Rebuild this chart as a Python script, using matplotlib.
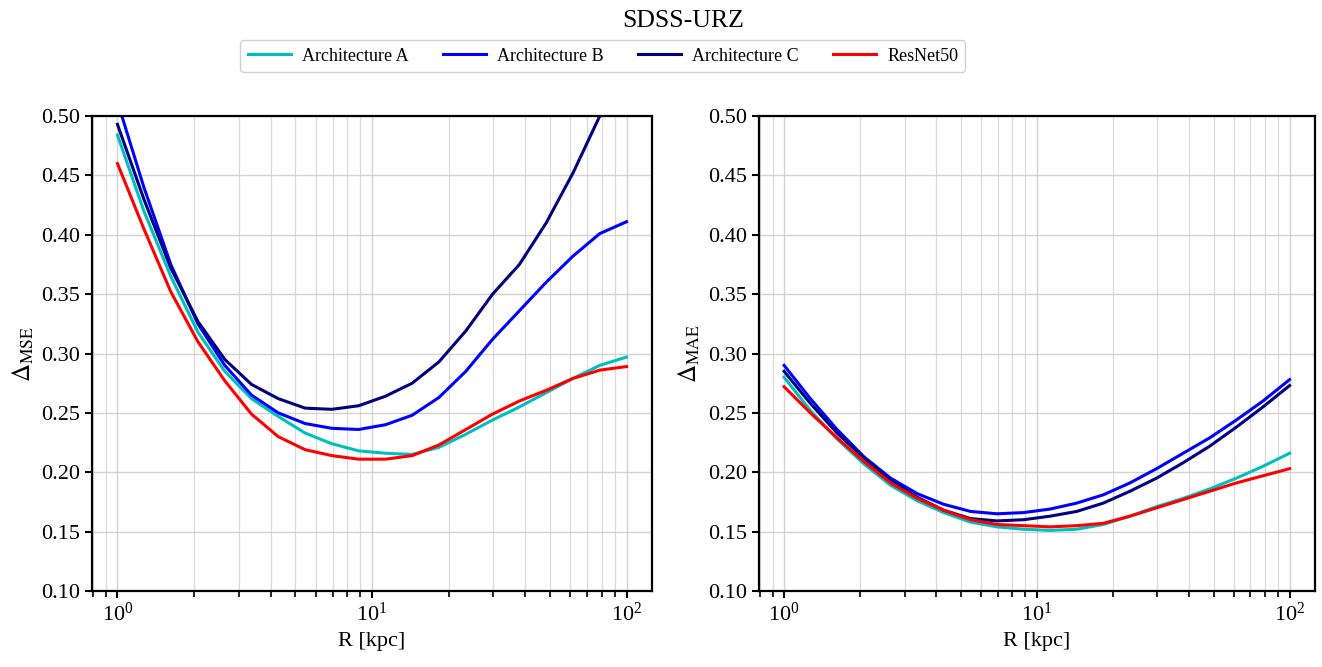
import matplotlib
matplotlib.use('Agg')
import matplotlib.pyplot as plt
import numpy as np
from matplotlib.ticker import MultipleLocator, FormatStrFormatter

plt.rcParams['font.family'] = 'Liberation Serif'
plt.rcParams['mathtext.fontset'] = 'stix'

R = [1.0, 1.27, 1.62, 2.07, 2.64, 3.36, 4.28, 5.46, 6.95, 8.86,
     11.29, 14.38, 18.33, 23.36, 29.76, 37.93, 48.33, 61.58, 78.48, 100.0]

mse_a = [0.484, 0.420, 0.365, 0.318, 0.285, 0.262, 0.247, 0.233, 0.224, 0.218,
         0.216, 0.215, 0.221, 0.232, 0.244, 0.255, 0.267, 0.279, 0.290, 0.297]
mse_b = [0.512, 0.440, 0.375, 0.325, 0.290, 0.265, 0.250, 0.241, 0.237, 0.236,
         0.240, 0.248, 0.263, 0.285, 0.312, 0.336, 0.360, 0.382, 0.401, 0.411]
mse_c = [0.493, 0.430, 0.372, 0.327, 0.295, 0.274, 0.262, 0.254, 0.253, 0.256,
         0.264, 0.275, 0.293, 0.319, 0.350, 0.375, 0.410, 0.452, 0.500, 0.550]
mse_r = [0.460, 0.405, 0.352, 0.310, 0.277, 0.249, 0.230, 0.219, 0.214, 0.211,
         0.211, 0.214, 0.223, 0.236, 0.249, 0.260, 0.269, 0.279, 0.286, 0.289]

mae_a = [0.280, 0.252, 0.228, 0.207, 0.189, 0.176, 0.166, 0.158, 0.154, 0.152,
         0.151, 0.152, 0.156, 0.163, 0.171, 0.178, 0.186, 0.195, 0.205, 0.216]
mae_b = [0.290, 0.262, 0.236, 0.213, 0.195, 0.182, 0.173, 0.167, 0.165, 0.166,
         0.169, 0.174, 0.181, 0.191, 0.203, 0.216, 0.229, 0.244, 0.260, 0.278]
mae_c = [0.285, 0.258, 0.233, 0.212, 0.193, 0.179, 0.168, 0.161, 0.159, 0.160,
         0.163, 0.167, 0.174, 0.184, 0.195, 0.208, 0.222, 0.238, 0.255, 0.273]
mae_r = [0.272, 0.250, 0.229, 0.209, 0.191, 0.178, 0.168, 0.160, 0.156, 0.155,
         0.154, 0.155, 0.157, 0.163, 0.170, 0.177, 0.184, 0.191, 0.197, 0.203]

labels = ['Architecture A', 'Architecture B', 'Architecture C', 'ResNet50']
colors = ['#00bfbf', '#0000ff', '#000080', '#ff0000']

fig = plt.figure(figsize=(13.22, 6.67), dpi=100)
ax1 = fig.add_axes([0.0696, 0.114, 0.4236, 0.712])
ax2 = fig.add_axes([0.574, 0.114, 0.4206, 0.712])

for ax, series, ylab in [(ax1, [mse_a, mse_b, mse_c, mse_r], r'$\Delta_{\rm MSE}$'),
                         (ax2, [mae_a, mae_b, mae_c, mae_r], r'$\Delta_{\rm MAE}$')]:
    for y, lab, col in zip(series, labels, colors):
        ax.plot(R, y, color=col, lw=2.2, label=lab)
    ax.set_xscale('log')
    ax.set_ylim(0.10, 0.50)
    ax.yaxis.set_major_locator(MultipleLocator(0.05))
    ax.yaxis.set_major_formatter(FormatStrFormatter('%.2f'))
    ax.grid(True, which='major', color='#d2d2d2', lw=1)
    ax.grid(True, which='minor', axis='x', color='#d9d9d9', lw=0.9)
    ax.tick_params(labelsize=16, width=1.5, length=5)
    ax.tick_params(which='minor', width=1.2, length=4)
    for s in ax.spines.values():
        s.set_linewidth(1.6)
    ax.set_xlabel('R [kpc]', fontsize=16)
    ax.set_ylabel(ylab, fontsize=18)

fig.suptitle('SDSS-URZ', x=0.517, y=0.985, fontsize=18.5)
h, l = ax1.get_legend_handles_labels()
fig.legend(h, l, loc='center', bbox_to_anchor=(0.456, 0.916), ncol=4,
           fontsize=13, handlelength=2.4, handletextpad=0.6, columnspacing=1.9,
           framealpha=1, edgecolor='#d0d0d0')

plt.savefig('out.png', dpi=100)
